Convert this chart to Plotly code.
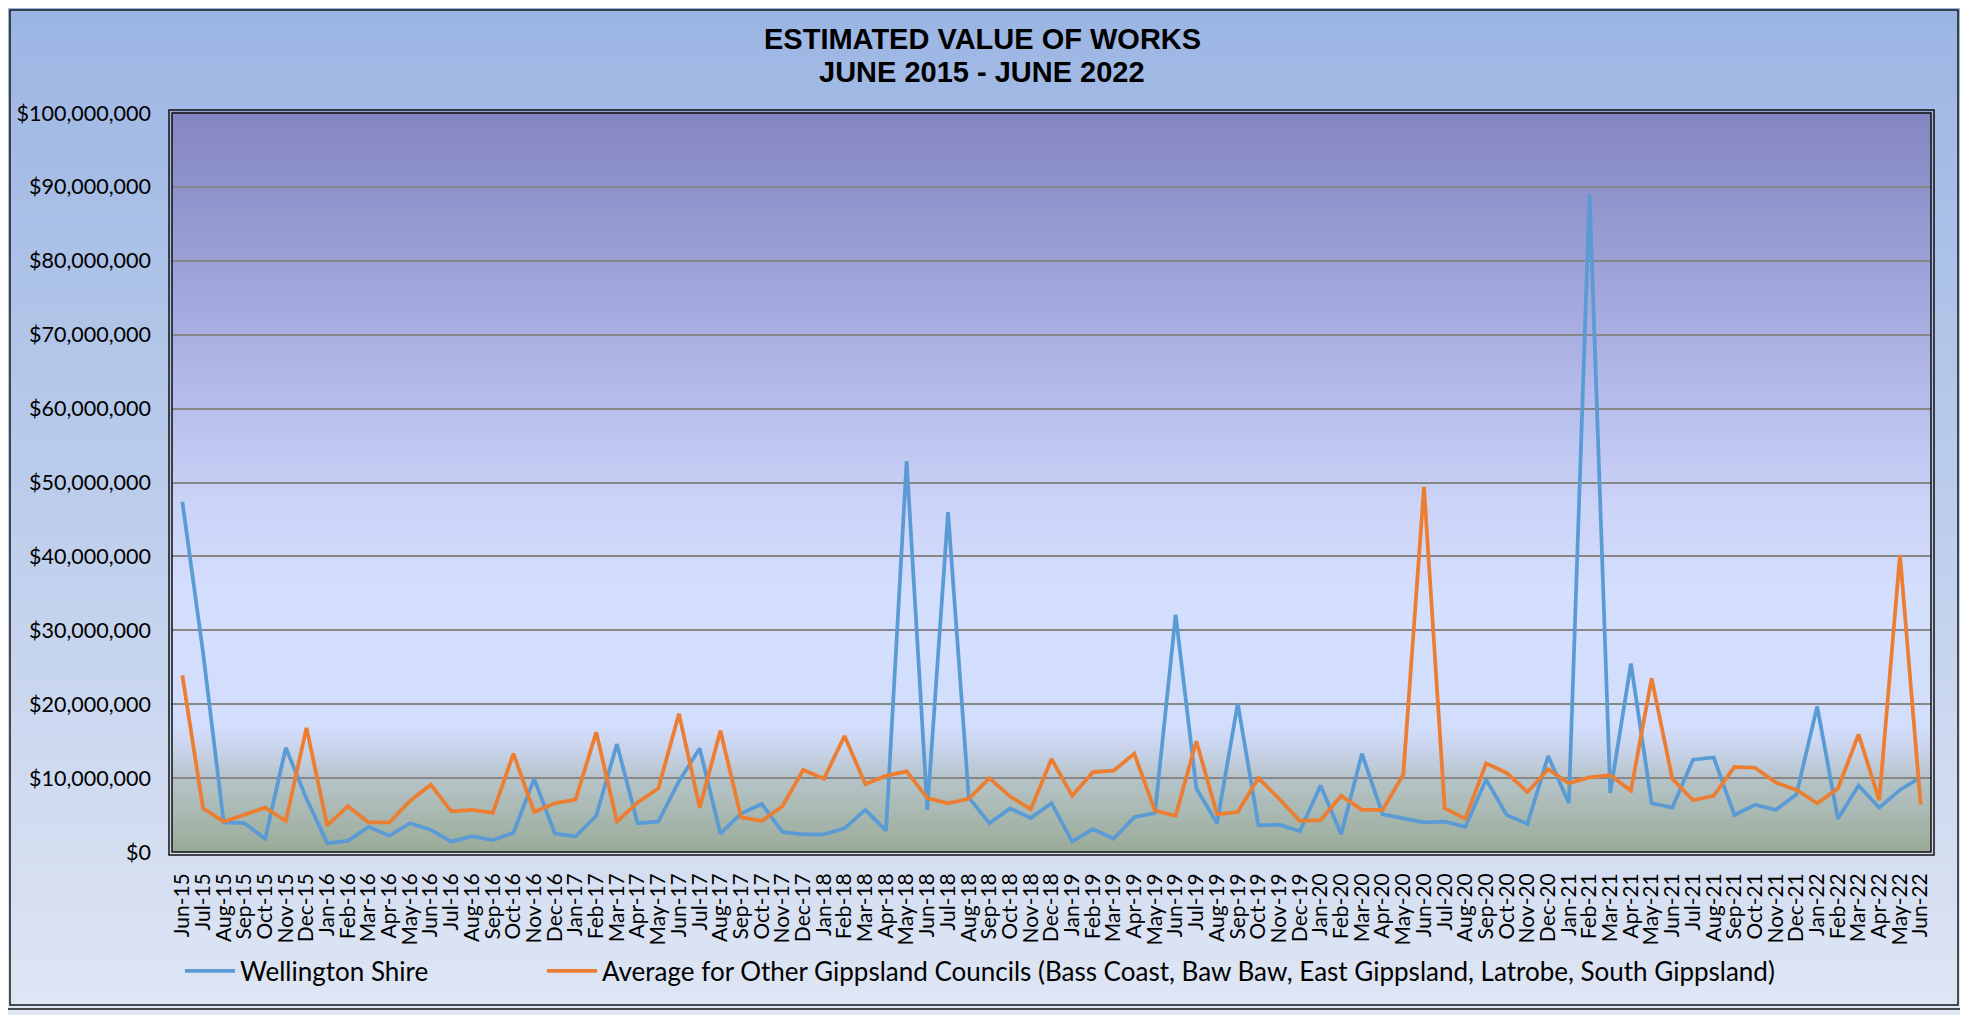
import plotly.graph_objects as go
import pandas as pd

# monthly estimated value of works, $ millions
months = pd.date_range('2015-06-01', '2022-06-01', freq='MS').strftime('%b-%y').tolist()

wellington_m = [47.4, 27.0, 4.0, 3.9, 1.8, 14.1, 7.2, 1.2, 1.5, 3.4, 2.2, 3.9, 3.0, 1.4, 2.1, 1.6,
                2.6, 9.9, 2.5, 2.1, 4.9, 14.6, 3.9, 4.1, 9.6, 14.0, 2.5, 5.2, 6.5, 2.7, 2.4, 2.4,
                3.2, 5.7, 2.9, 52.9, 5.7, 46.0, 7.4, 3.9, 5.9, 4.6, 6.6, 1.4, 3.1, 1.8, 4.7, 5.3,
                32.1, 8.6, 3.9, 20.1, 3.6, 3.7, 2.8, 9.0, 2.4, 13.3, 5.1, 4.5, 4.0, 4.1, 3.4, 9.8,
                5.0, 3.8, 13.0, 6.6, 89.0, 8.0, 25.5, 6.6, 6.0, 12.5, 12.8, 5.0, 6.4, 5.7, 7.8,
                19.7, 4.5, 9.0, 6.0, 8.4, 10.1]

others_m = [23.9, 5.9, 4.1, 5.1, 6.0, 4.2, 16.8, 3.6, 6.2, 4.0, 4.0, 6.9, 9.1, 5.5, 5.7, 5.3,
            13.3, 5.4, 6.6, 7.1, 16.2, 4.1, 6.7, 8.6, 18.7, 6.0, 16.4, 4.7, 4.2, 6.2, 11.1, 9.9,
            15.7, 9.2, 10.3, 10.9, 7.3, 6.6, 7.2, 10.0, 7.5, 5.8, 12.6, 7.6, 10.8, 11.0, 13.3, 5.6,
            4.9, 15.0, 5.1, 5.4, 10.0, 7.2, 4.2, 4.3, 7.6, 5.7, 5.7, 10.5, 49.4, 5.9, 4.5, 12.0,
            10.7, 8.1, 11.2, 9.3, 10.1, 10.4, 8.3, 23.5, 9.9, 7.0, 7.6, 11.5, 11.4, 9.4, 8.4,
            6.6, 8.6, 15.9, 7.0, 40.2, 6.4]

series_names = ['Wellington Shire',
                'Average for Other Gippsland Councils (Bass Coast, Baw Baw, East Gippsland, Latrobe, South Gippsland)']

# the page body adds an 8px margin, so the figure is drawn 8px smaller and
# all positions below are given in window pixels
OFF = 8
W, H = 1968 - OFF, 1015 - OFF
L, R, T, B = 172, 1931, 113, 852   # plot area, window pixels
PW, PH = R - L, B - T


def px_x(px):
    return (px - L) / PW


def px_y(py):
    return (B - py) / PH


def hex2rgb(h):
    h = h.lstrip('#')
    return [int(h[i:i + 2], 16) for i in (0, 2, 4)]


def gradient(stops, t):
    for (t0, c0), (t1, c1) in zip(stops, stops[1:]):
        if t0 <= t <= t1:
            f = (t - t0) / (t1 - t0) if t1 > t0 else 0
            a, b = hex2rgb(c0), hex2rgb(c1)
            return 'rgb(%d,%d,%d)' % tuple(round(a[k] + f * (b[k] - a[k])) for k in range(3))
    return stops[-1][1]


shapes = []

# page background, top -> bottom
page_stops = [(0, '#9bb5e3'), (1, '#dfe6f4')]
n = 120
for i in range(n):
    y0, y1 = OFF + H * i / n, OFF + H * (i + 1) / n + 1
    shapes.append(dict(type='rect', xref='paper', yref='paper', layer='below',
                       x0=px_x(0), x1=px_x(1968), y0=px_y(y1), y1=px_y(y0),
                       fillcolor=gradient(page_stops, (i + 0.5) / n), line_width=0))

# plot area background, bottom -> top
plot_stops = [(0, '#9aaa97'), (0.05, '#a8b8b0'), (0.10, '#b6c4c9'), (0.14, '#c9d4ec'),
              (0.17, '#d3ddfc'), (0.35, '#d4defd'), (0.47, '#cbd3f7'), (0.62, '#b5bbea'),
              (0.78, '#9ea3d9'), (0.90, '#8f93cb'), (1.0, '#8486c1')]
n = 200
for i in range(n):
    shapes.append(dict(type='rect', xref='paper', yref='paper', layer='below',
                       x0=0, x1=1, y0=i / n, y1=(i + 1) / n + 0.002,
                       fillcolor=gradient(plot_stops, (i + 0.5) / n), line_width=0))

# double frames
for inset in (6, 10):
    shapes.append(dict(type='rect', xref='paper', yref='paper', layer='above',
                       x0=px_x(inset), x1=px_x(1968 - inset), y0=px_y(1015 - inset), y1=px_y(inset),
                       line=dict(color='#1a1a1a', width=1.5)))
for off in (0, 3):
    shapes.append(dict(type='rect', xref='paper', yref='paper', layer='above',
                       x0=px_x(L - off), x1=px_x(R + off), y0=px_y(B + off), y1=px_y(T - off),
                       line=dict(color='#111111', width=1.5)))

fig = go.Figure()

fig.add_trace(go.Scatter(x=months, y=[v * 1e6 for v in wellington_m], mode='lines',
                         name=series_names[0], legend='legend',
                         line=dict(color='#5b9bd5', width=3.75)))
fig.add_trace(go.Scatter(x=months, y=[v * 1e6 for v in others_m], mode='lines',
                         name=series_names[1], legend='legend2',
                         line=dict(color='#ed7d31', width=3.75)))

legend_style = dict(orientation='h', xanchor='left', yanchor='middle', y=px_y(971),
                    font=dict(family='Lato', size=26), bgcolor='rgba(0,0,0,0)', itemwidth=50)

fig.update_layout(
    width=W, height=H,
    margin=dict(l=L - OFF, r=1968 - R, t=T - OFF, b=1015 - B, autoexpand=False),
    paper_bgcolor='#c0cfec',
    plot_bgcolor='rgba(0,0,0,0)',
    font=dict(family='Lato', color='#000000'),
    shapes=shapes,
    showlegend=True,
    legend=dict(x=px_x(180), **legend_style),
    legend2=dict(x=px_x(542), **legend_style),
    annotations=[
        dict(text='<b>ESTIMATED VALUE OF WORKS</b>', xref='paper', yref='paper',
             x=px_x(982), y=px_y(39), xanchor='center', yanchor='middle', showarrow=False,
             font=dict(family='Liberation Sans', size=29, color='#000000')),
        dict(text='<b>JUNE 2015 - JUNE 2022</b>', xref='paper', yref='paper',
             x=px_x(982), y=px_y(72), xanchor='center', yanchor='middle', showarrow=False,
             font=dict(family='Liberation Sans', size=29, color='#000000')),
    ],
)

fig.update_xaxes(type='category', range=[-0.5, len(months) - 0.5], tickangle=-90,
                 tickmode='array', tickvals=months, ticktext=months,
                 tickfont=dict(size=21), showgrid=False, zeroline=False, ticks='',
                 ticklabelstandoff=16)
fig.update_yaxes(range=[0, 100e6], dtick=10e6, tickprefix='$', tickformat=',.0f',
                 tickfont=dict(size=21.5), showgrid=True, gridcolor='#878787', gridwidth=1.5,
                 zeroline=False, ticks='', ticklabelstandoff=20)

fig.write_html('out.html')
